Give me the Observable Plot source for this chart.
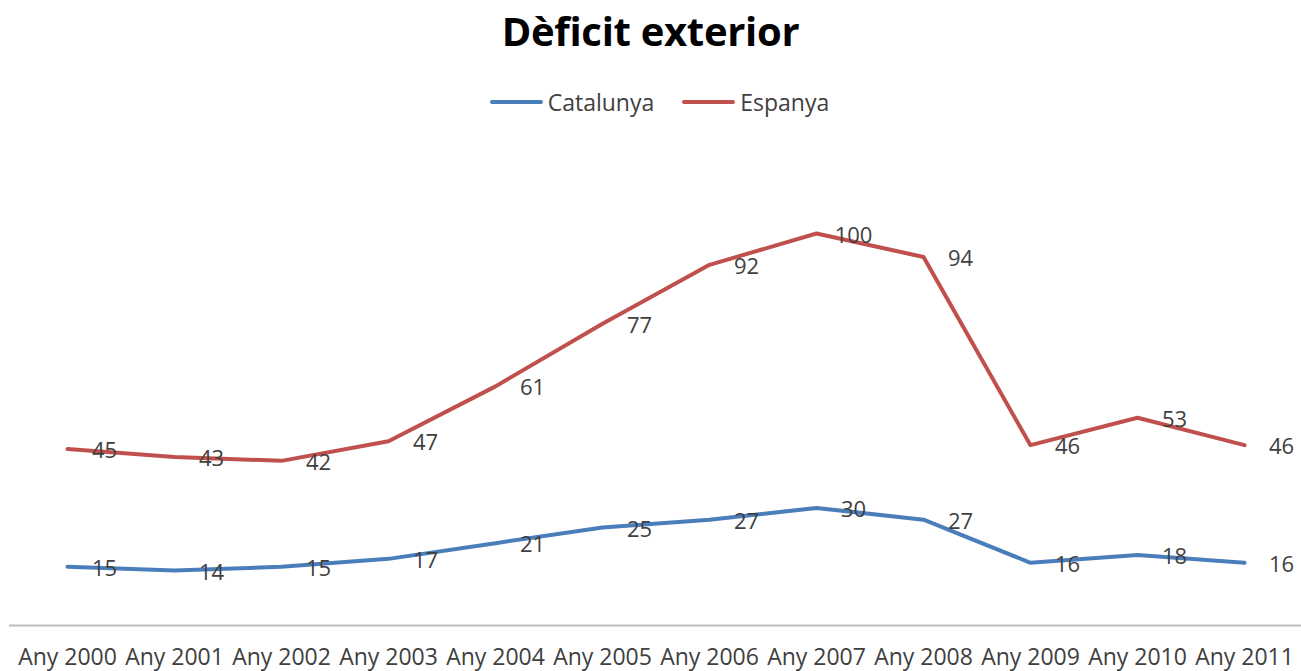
<!DOCTYPE html>
<html>
<head>
<meta charset="utf-8">
<script src="https://cdn.jsdelivr.net/npm/d3@7"></script>
<script src="https://cdn.jsdelivr.net/npm/@observablehq/plot@0.6"></script>
<style>
  body { margin: 0; background: #fff; font-family: "Open Sans", sans-serif; }
  #wrap { width: 1301px; height: 671px; overflow: hidden; }
  #title { height: 65px; line-height: 62px; text-align: center; font-size: 40px; font-weight: bold; color: #000; letter-spacing: -0.3px; }
  #legend { height: 65px; display: flex; justify-content: center; align-items: center; padding-left: 18px; box-sizing: border-box; padding-top: 9px; font-size: 23px; color: #404040; }
  .item { display: flex; align-items: center; margin: 0 14px; }
  .sw { width: 53px; height: 4px; border-radius: 2px; margin-right: 5px; }
</style>
</head>
<body>
<div id="wrap">
  <div id="title">Dèficit exterior</div>
  <div id="legend"></div>
  <div id="chart"></div>
</div>
<script>
const years = ["Any 2000","Any 2001","Any 2002","Any 2003","Any 2004","Any 2005","Any 2006","Any 2007","Any 2008","Any 2009","Any 2010","Any 2011"];
const catalunya = [15,14,15,17,21,25,27,30,27,16,18,16];
const espanya = [45,43,42,47,61,77,92,100,94,46,53,46];
const seriesNames = ["Catalunya","Espanya"];
const seriesColors = ["#4a7ebb","#c0504d"];

const data = [];
years.forEach((y, i) => {
  data.push({year: y, series: "Catalunya", value: catalunya[i]});
  data.push({year: y, series: "Espanya", value: espanya[i]});
});

const legend = document.getElementById("legend");
seriesNames.forEach((n, i) => {
  const it = document.createElement("div");
  it.className = "item";
  const sw = document.createElement("div");
  sw.className = "sw";
  sw.style.background = seriesColors[i];
  const t = document.createElement("span");
  t.textContent = n;
  it.appendChild(sw); it.appendChild(t);
  legend.appendChild(it);
});

const chart = Plot.plot({
  width: 1301,
  height: 541,
  marginLeft: 9,
  marginRight: 0,
  marginTop: 103,
  marginBottom: 46,
  style: {fontFamily: "Open Sans, sans-serif", overflow: "visible"},
  x: {type: "point", domain: years, padding: 0.5, label: null},
  y: {domain: [0, 100], axis: null},
  color: {domain: seriesNames, range: seriesColors},
  marks: [
    Plot.ruleY([0], {stroke: "#bdbdbd", strokeWidth: 2}),
    Plot.axisX({tickSize: 0, tickPadding: 23, fontSize: 23, fill: "#404040", label: null}),
    Plot.line(data, {x: "year", y: "value", z: "series", stroke: "series", strokeWidth: 4, strokeLinejoin: "round"}),
    Plot.text(data, {x: "year", y: "value", text: d => String(d.value), dx: 37, dy: 2, fontSize: 22, fill: "#404040"})
  ]
});
document.getElementById("chart").appendChild(chart);
</script>
</body>
</html>
